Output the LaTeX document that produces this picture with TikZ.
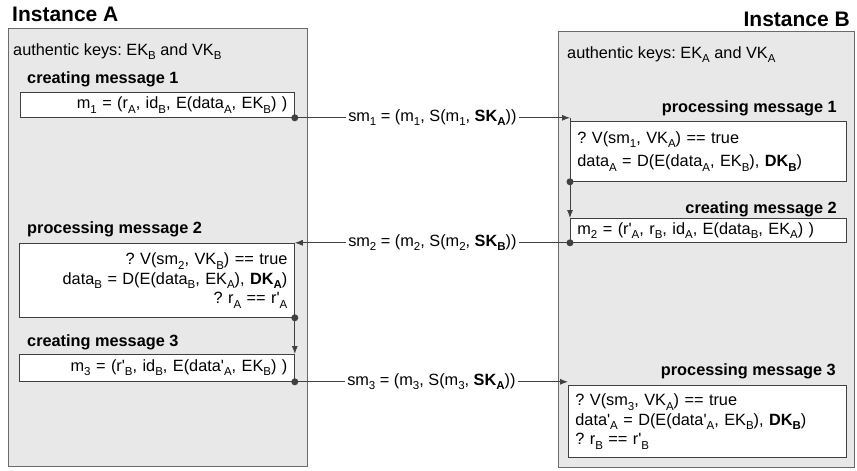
\documentclass[tikz,border=0pt]{standalone}
\usepackage{fontspec}
\setmainfont{Liberation Sans}
\usetikzlibrary{arrows.meta}

\definecolor{instgray}{HTML}{E8E8E8}
\definecolor{framegray}{HTML}{6A6A6A}
\definecolor{linegray}{HTML}{404040}

\newcommand{\sub}[1]{\raisebox{-0.27em}{\fontsize{11.5}{12}\selectfont #1}}
\newcommand{\pr}{\textquotesingle}

\begin{document}
\frenchspacing
\begin{tikzpicture}[x=1pt,y=-1pt,font=\fontsize{16.3}{19.5}\selectfont]
	\useasboundingbox (0,0) rectangle (857,471);
	\tikzset{
		instbox/.style={draw=framegray, fill=instgray, line width=0.8pt, anchor=north west, inner sep=0pt},
		plain/.style={inner sep=0pt},
		title/.style={plain, font=\fontsize{21}{24}\selectfont\bfseries},
		heading/.style={plain, font=\fontsize{16.3}{19.5}\selectfont\bfseries},
		msgbox/.style={draw=linegray, fill=white, line width=0.8pt, anchor=north west, inner xsep=7pt, inner ysep=3pt},
		flow/.style={draw=linegray, line width=0.8pt, -{Latex[length=8pt,width=6pt]}},
		link/.style={draw=linegray, line width=0.8pt},
		sig/.style={fill=white, inner sep=2pt},
		dot/.style={circle, fill=linegray, inner sep=0pt, minimum size=7pt}
	}
	
	% the two instances
	\node[instbox, minimum width=299pt, minimum height=438pt] (instA) at (8,28) {};
	\node[instbox, minimum width=296pt, minimum height=436pt] (instB) at (558,31) {};
	\node[title, anchor=base west] (titleA) at (12,21) {Instance A};
	\node[title, anchor=base east] (titleB) at (850,26) {Instance B};
	
	\node[plain, anchor=base west] (keysA) at (13,55) {authentic keys: EK\sub{B} and VK\sub{B}};
	\node[plain, anchor=base west] (keysB) at (567,58) {authentic keys: EK\sub{A} and VK\sub{A}};
	
	% steps of instance A
	\node[heading, anchor=base west] (hm1) at (27,83) {creating message 1};
	\node[msgbox, text width=260pt, align=right, minimum height=25pt] (m1) at (20,92)
		{m\sub{1} = (r\sub{A}, id\sub{B}, E(data\sub{A}, EK\sub{B}) )};
	
	\node[heading, anchor=base west] (hp2) at (27,233) {processing message 2};
	\node[msgbox, text width=261pt, align=right, minimum height=74pt] (p2) at (19,243)
		{? V(sm\sub{2}, VK\sub{B}) == true\\
		 data\sub{B} = D(E(data\sub{B}, EK\sub{A}), \textbf{DK\sub{A}})\\
		 ? r\sub{A} == r\pr\sub{A}};
	
	\node[heading, anchor=base west] (hm3) at (27,346) {creating message 3};
	\node[msgbox, text width=261pt, align=right, minimum height=27pt] (m3) at (19,354)
		{m\sub{3} = (r\pr\sub{B}, id\sub{B}, E(data\pr\sub{A}, EK\sub{B}) )};
	
	% steps of instance B
	\node[heading, anchor=base east] (hp1) at (837,112) {processing message 1};
	\node[msgbox, text width=262pt, align=left, minimum height=60pt] (p1) at (570,121)
		{? V(sm\sub{1}, VK\sub{A}) == true\\[4pt]
		 data\sub{A} = D(E(data\sub{A}, EK\sub{B}), \textbf{DK\sub{B}})};
	
	\node[heading, anchor=base east] (hm2) at (837,213) {creating message 2};
	\node[msgbox, text width=262pt, align=left, minimum height=24pt] (m2) at (570,218)
		{m\sub{2} = (r\pr\sub{A}, r\sub{B}, id\sub{A}, E(data\sub{B}, EK\sub{A}) )};
	
	\node[heading, anchor=base east] (hp3) at (836,375) {processing message 3};
	\node[msgbox, text width=264pt, align=left, minimum height=72pt] (p3) at (568,385)
		{? V(sm\sub{3}, VK\sub{A}) == true\\
		 data\pr\sub{A} = D(E(data\pr\sub{A}, EK\sub{B}), \textbf{DK\sub{B}})\\
		 ? r\sub{B} == r\pr\sub{B}};
	
	% message 1
	\draw[flow] (m1.south east) -- (m1.south east -| p1.west)
		node[sig, midway] (sm1) {sm\sub{1} = (m\sub{1}, S(m\sub{1}, \textbf{SK\sub{A}}))};
	\draw[link] (m1.south east -| p1.west) -- (p1.south west);
	\draw[flow] (p1.south west) -- (m2.north west);
	
	% message 2
	\draw[flow] (m2.south west) -- (m2.south west -| p2.east)
		node[sig, midway] (sm2) {sm\sub{2} = (m\sub{2}, S(m\sub{2}, \textbf{SK\sub{B}}))};
	\draw[link] (m2.south west -| p2.east) -- (p2.south east);
	\draw[flow] (p2.south east) -- (m3.north east);
	
	% message 3
	\draw[flow] (m3.south east) -- (m3.south east -| p3.west)
		node[sig, midway] (sm3) {sm\sub{3} = (m\sub{3}, S(m\sub{3}, \textbf{SK\sub{A}}))};
	
	% sending points
	\node[dot] (d1) at (m1.south east) {};
	\node[dot] (d2) at (p1.south west) {};
	\node[dot] (d3) at (m2.south west) {};
	\node[dot] (d4) at (p2.south east) {};
	\node[dot] (d5) at (m3.south east) {};
\end{tikzpicture}
\end{document}
